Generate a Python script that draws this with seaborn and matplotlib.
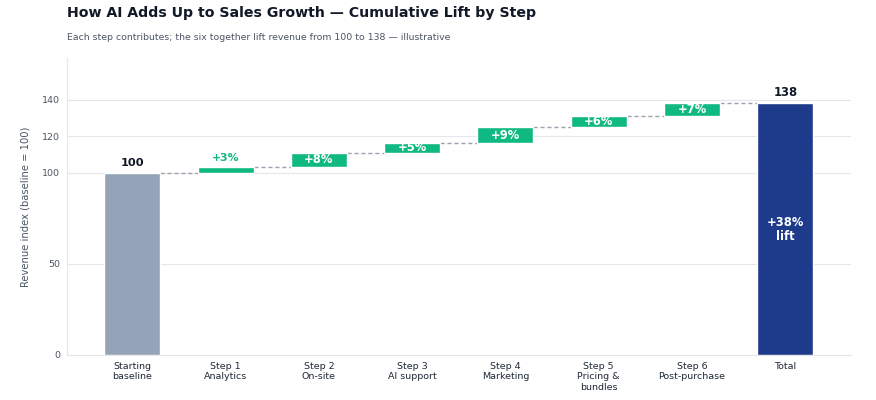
import matplotlib
matplotlib.use("Agg")
import matplotlib.pyplot as plt
import seaborn as sns
import numpy as np
import pandas as pd

# ---- data ----
categories = ["Starting\nbaseline", "Step 1\nAnalytics", "Step 2\nOn-site", "Step 3\nAI support",
              "Step 4\nMarketing", "Step 5\nPricing &\nbundles", "Step 6\nPost-purchase", "Total"]
baseline = 100
step_lifts = [3, 8, 5, 9, 6, 7]
step_labels = ["+3%", "+8%", "+5%", "+9%", "+6%", "+7%"]
total_label = "+38%\nlift"
yticks = [0, 50, 100, 120, 140]

# derived
cum = np.cumsum([baseline] + step_lifts)           # 100,103,...,138
total = cum[-1]
bottoms = [0] + list(cum[:-1]) + [0]
tops = [baseline] + list(cum[1:]) + [total]

C_START = "#94a3b8"
C_STEP = "#10b981"
C_TOTAL = "#1e3a8a"
colors = [C_START] + [C_STEP] * len(step_lifts) + [C_TOTAL]

sns.set_theme(style="white")
plt.rcParams["font.family"] = ["DejaVu Sans"]

fig = plt.figure(figsize=(8.76, 4.0), dpi=100)
ax = fig.add_axes([0.0765, 0.1125, 0.8945, 0.7425])

df = pd.DataFrame({"cat": categories, "top": tops})
sns.barplot(data=df, x="cat", y="top", ax=ax, width=0.6, color=C_STEP,
            edgecolor="white", linewidth=1, saturation=1)

for p, b, t, c in zip(ax.patches, bottoms, tops, colors):
    p.set_y(b)
    p.set_height(t - b)
    p.set_facecolor(c)
    p.set_zorder(3)

# connectors
pats = list(ax.patches)
for i in range(len(pats) - 1):
    level = cum[i] if i < len(cum) else total
    x0 = pats[i].get_x() + pats[i].get_width()
    x1 = pats[i + 1].get_x()
    ax.plot([x0, x1], [level, level], color="#9ca3af", lw=1, ls=(0, (3, 2)), zorder=2)

# labels
def center_x(p):
    return p.get_x() + p.get_width() / 2

ax.annotate(f"{baseline}", (center_x(pats[0]), baseline), xytext=(0, 3), textcoords="offset points",
            ha="center", va="bottom", fontsize=8.2, fontweight="bold", color="#111827")
for i, lab in enumerate(step_labels):
    p = pats[i + 1]
    b, t = bottoms[i + 1], tops[i + 1]
    if step_lifts[i] < 4:
        ax.annotate(lab, (center_x(p), t), xytext=(0, 3), textcoords="offset points",
                    ha="center", va="bottom", fontsize=7.8, fontweight="bold", color=C_STEP, zorder=5)
    else:
        ax.text(center_x(p), (b + t) / 2, lab, ha="center", va="center", fontsize=8.3,
                fontweight="bold", color="white", zorder=5)
ax.annotate(f"{total}", (center_x(pats[-1]), total), xytext=(0, 3), textcoords="offset points",
            ha="center", va="bottom", fontsize=8.4, fontweight="bold", color="#111827")
ax.text(center_x(pats[-1]), total / 2, total_label, ha="center", va="center", fontsize=8.3,
        fontweight="bold", color="white", zorder=5, linespacing=1.1)

# axes styling
ax.set_xlim(-0.7, 7.7)
ax.set_ylim(0, total * 1.18)
ax.set_yticks(yticks)
ax.yaxis.grid(True, color="#e5e7eb", lw=0.8, zorder=0)
ax.set_axisbelow(True)
for s in ["top", "right"]:
    ax.spines[s].set_visible(False)
for s in ["left", "bottom"]:
    ax.spines[s].set_color("#e5e7eb")
    ax.spines[s].set_linewidth(0.8)
ax.tick_params(axis="y", length=3, width=0.8, color="#9ca3af", labelsize=6.8, labelcolor="#4b5563", pad=2)
ax.tick_params(axis="x", length=0, labelsize=6.8, labelcolor="#1f2937", pad=5)
ax.set_xlabel("")
ax.set_ylabel("Revenue index (baseline = 100)", fontsize=7.2, color="#4b5563", labelpad=8)

fig.text(0.0765, 0.968, "How AI Adds Up to Sales Growth — Cumulative Lift by Step",
         fontsize=10.2, fontweight="bold", color="#111827", ha="left", va="center")
fig.text(0.0765, 0.905, "Each step contributes; the six together lift revenue from 100 to 138 — illustrative",
         fontsize=6.75, color="#4b5563", ha="left", va="center")

fig.savefig("out.png", dpi=100)
